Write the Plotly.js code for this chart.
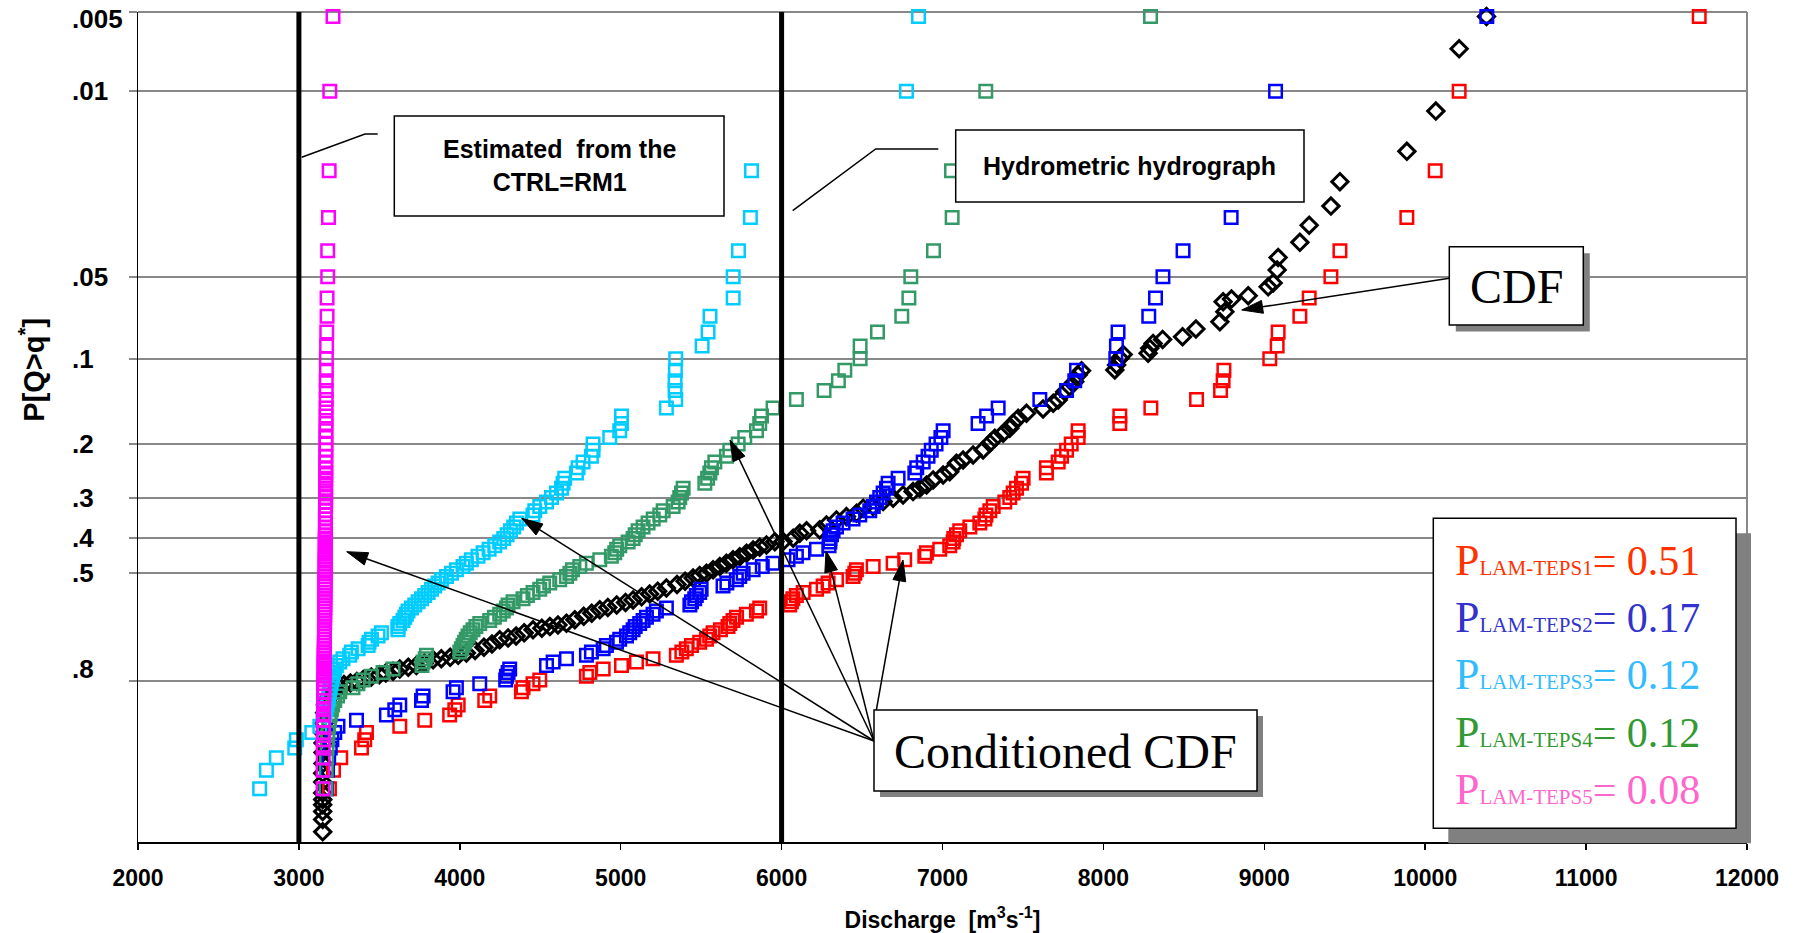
<!DOCTYPE html>
<html><head><meta charset="utf-8">
<script src="https://cdn.plot.ly/plotly-3.0.1.min.js"></script>
<style>html,body{margin:0;padding:0;background:#fff;} #chart{width:1797px;height:933px;}</style>
</head><body><div id="chart"></div>
<script>
// ---------------- DATA ----------------
// exceedance probabilities of the ensemble members (plotting positions)
const PROB = [0.0052,0.01,0.02,0.03,0.04,0.05,0.06,0.07,0.08,0.09,
 0.10,0.11,0.12,0.13,0.14,0.15,0.16,0.17,0.18,0.19,
 0.20,0.21,0.22,0.23,0.24,0.25,0.26,0.27,0.28,0.29,
 0.30,0.31,0.32,0.33,0.34,0.35,0.36,0.37,0.38,0.39,
 0.40,0.41,0.42,0.43,0.44,0.45,0.46,0.47,0.48,0.49,
 0.50,0.51,0.52,0.53,0.54,0.55,0.56,0.57,0.58,0.59,
 0.60,0.61,0.62,0.63,0.64,0.65,0.66,0.67,0.68,0.69,
 0.70,0.71,0.72,0.73,0.74,0.75,0.76,0.77,0.78,0.79,
 0.80,0.81,0.82,0.83,0.84,0.85,0.86,0.87,0.88,0.89,
 0.90,0.91,0.92,0.93,0.94,0.95,0.96,0.97,0.98,0.99];

const Q_TEPS1 = [11703,10211,10062,9886,9470,9414,9279,9221,9086,9080,
 9034,8749,8744,8728,8579,8295,8102,8102,7843,7843,
 7800,7771,7740,7719,7646,7646,7501,7491,7460,7439,
 7418,7387,7315,7294,7270,7263,7232,7170,7107,7087,
 7070,7066,7045,6983,6900,6890,6765,6693,6569,6465,
 6455,6444,6341,6289,6258,6217,6134,6092,6070,6061,
 6050,5864,5844,5781,5720,5698,5678,5667,5620,5574,
 5553,5533,5491,5440,5408,5380,5346,5201,5098,5005,
 4891,4808,4787,4497,4455,4393,4383,4186,4155,3990,
 3969,3937,3782,3627,3420,3409,3389,3260,3215,3190];

const Q_TEPS2 = [10383,9070,8900,8794,8495,8370,8324,8282,8091,8081,
 8077,7833,7822,7771,7605,7346,7274,7221,7004,6990,
 6960,6930,6910,6880,6840,6828,6724,6662,6652,6631,
 6610,6590,6570,6548,6486,6444,6382,6341,6320,6310,
 6300,6300,6295,6217,6133,6092,6040,5947,5880,5823,
 5761,5740,5719,5660,5636,5500,5491,5470,5460,5440,
 5430,5284,5222,5201,5160,5139,5118,5090,5077,5056,
 5036,4994,4974,4911,4891,4818,4787,4663,4580,4539,
 4310,4300,4290,4285,4124,3979,3958,3772,3762,3627,
 3596,3544,3358,3243,3223,3205,3195,3185,3178,3172];

const Q_TEPS3 = [6851,6776,5813,5806,5732,5699,5699,5555,5543,5506,
 5342,5340,5338,5338,5342,5284,5005,5005,4994,4932,
 4828,4828,4818,4766,4735,4725,4652,4642,4632,4601,
 4570,4539,4497,4466,4455,4373,4352,4335,4315,4294,
 4273,4248,4217,4182,4145,4113,4072,4041,4020,3979,
 3948,3917,3886,3865,3844,3824,3803,3782,3762,3741,
 3720,3699,3678,3668,3658,3647,3627,3616,3616,3513,
 3492,3451,3436,3430,3368,3326,3316,3274,3254,3233,
 3223,3215,3210,3205,3200,3195,3190,3185,3180,3175,
 3170,3160,3150,3130,3080,2984,2974,2860,2798,2756];

const Q_TEPS4 = [8293,7269,7056,7060,6944,6803,6791,6747,6596,6488,
 6488,6393,6353,6264,6092,5947,5875,5864,5844,5771,
 5730,5678,5657,5585,5564,5554,5540,5523,5388,5378,
 5367,5357,5326,5264,5243,5202,5170,5139,5108,5090,
 5077,5046,4994,4975,4963,4942,4870,4787,4746,4700,
 4684,4663,4621,4559,4520,4497,4455,4420,4393,4331,
 4300,4290,4270,4248,4215,4186,4124,4100,4082,4065,
 4051,4040,4030,4020,4010,4000,3793,3785,3772,3765,
 3585,3523,3451,3400,3367,3336,3254,3240,3223,3210,
 3202,3195,3190,3185,3180,3178,3175,3172,3170,3168];

const Q_TEPS5 = [3212,3192,3188,3184,3179,3179,3175,3175,3173,3172,
 3171,3171,3170,3170,3170,3169,3169,3169,3168,3168,
 3168,3168,3167,3167,3167,3167,3167,3166,3166,3166,
 3166,3166,3166,3165,3165,3165,3165,3165,3165,3164,
 3164,3164,3164,3164,3164,3163,3163,3163,3163,3163,
 3163,3162,3162,3162,3162,3162,3162,3161,3161,3161,
 3161,3161,3160,3160,3160,3160,3160,3159,3159,3159,
 3159,3159,3158,3158,3158,3158,3157,3157,3157,3157,
 3156,3156,3156,3155,3155,3155,3154,3154,3154,3153,
 3153,3153,3152,3152,3152,3151,3151,3151,3150,3150];

// unconditioned (mixture) CDF, black diamonds
const CDF_Q = [10381,10211,10066,9886,9470,9414,9279,9221,9086,9080,
 9055,9024,8900,8796,8744,8755,8724,8575,8492,8368,
 8309,8288,8278,8123,8102,8082,8071,7864,7843,7822,
 7791,7760,7719,7688,7625,7522,7470,7439,7418,7377,
 7325,7294,7252,7190,7128,7087,7045,7004,6942,6901,
 6859,6817,6755,6693,6631,6569,6507,6466,6403,6341,
 6279,6237,6155,6113,6072,6009,5958,5906,5864,5823,
 5782,5740,5698,5657,5616,5574,5533,5491,5450,5400,
 5350,5284,5230,5180,5130,5077,5030,4975,4920,4870,
 4820,4770,4715,4663,4610,4560,4510,4455,4400,4350,
 4300,4248,4200,4150,4095,4041,3990,3940,3885,3834,
 3780,3730,3680,3627,3585,3540,3500,3450,3400,3360,
 3320,3280,3254,3230,3210,3190,3175,3165,3160,3155,
 3152,3150,3150,3150,3148,3148,3148,3148,3148,3148,
 3148,3148];
const CDF_P = [0.0052,0.0069,0.0119,0.0169,0.022,0.0272,0.0321,0.0372,0.0424,0.0472,
 0.0527,0.0545,0.0588,0.0605,0.0619,0.0674,0.0733,0.078,0.0832,0.0851,
 0.088,0.0917,0.0956,0.0965,0.0997,0.1054,0.1099,0.1105,0.1145,0.121,
 0.1261,0.1313,0.1405,0.1443,0.1511,0.1565,0.1629,0.1696,0.1765,0.1836,
 0.191,0.1986,0.2093,0.2176,0.2262,0.232,0.2474,0.2537,0.2633,0.2733,
 0.2801,0.2872,0.2943,0.3015,0.3091,0.3204,0.3241,0.336,0.3442,0.3523,
 0.3648,0.3774,0.380,0.3862,0.3994,0.4085,0.409,0.418,0.424,0.432,
 0.441,0.451,0.460,0.470,0.480,0.490,0.500,0.507,0.515,0.525,
 0.535,0.546,0.556,0.565,0.574,0.584,0.592,0.600,0.608,0.616,
 0.627,0.637,0.648,0.659,0.665,0.670,0.675,0.680,0.690,0.700,
 0.706,0.712,0.725,0.735,0.745,0.753,0.760,0.766,0.770,0.773,
 0.783,0.790,0.795,0.800,0.806,0.811,0.816,0.822,0.829,0.834,
 0.838,0.842,0.849,0.855,0.862,0.871,0.880,0.890,0.906,0.925,
 0.941,0.954,0.965,0.975,0.982,0.987,0.9916,0.9937,0.995,0.9964,
 0.9976,0.9988];

const SERIES_NAMES = ['LAM-TEPS1','LAM-TEPS2','LAM-TEPS3','LAM-TEPS4','LAM-TEPS5'];
const SERIES_WEIGHTS = [0.51, 0.17, 0.12, 0.12, 0.08];
const THRESHOLDS = [3000, 6000];           // CTRL=RM1 estimate, hydrometric hydrograph
const GRID_P = [0.005,0.01,0.05,0.1,0.2,0.3,0.4,0.5,0.832]; // gridline levels as drawn
const TICK_P = [0.005,0.01,0.05,0.1,0.2,0.3,0.4,0.5,0.8];
const TICK_LABELS = ['.005','.01','.05','.1','.2','.3','.4','.5','.8'];
const X_TICKS = [2000,3000,4000,5000,6000,7000,8000,9000,10000,11000,12000];
const P_TOP = 0.005, P_BOTTOM = 0.99936;

// ---------------- STYLE ----------------
const SANS = 'Liberation Sans, Arial, sans-serif';
const SERIF = 'Liberation Serif, Times New Roman, serif';
const MARK_COLORS = ['#FF0000','#0000FF','#00CCFF','#339966','#FF00FF'];
const LEGEND_COLORS = ['#FF3300','#3333CC','#33BBFF','#339933','#FF66CC'];

// Gumbel (extreme value) probability scale
function gumbel(p){ return -Math.log(-Math.log(1 - p)); }

const W = 1797, H = 933, ML = 138, MR = 50, MT = 12, MB = 91;
const PW = W - ML - MR, PH = H - MT - MB;
const xp = px => (px - ML) / PW;
const yp = py => 1 - (py - MT) / PH;

const SERIES_Q = [Q_TEPS1, Q_TEPS2, Q_TEPS3, Q_TEPS4, Q_TEPS5];
const traces = [];
traces.push({type:'scatter', mode:'markers', name:'CDF', x:CDF_Q, y:CDF_P.map(gumbel), cliponaxis:false,
  marker:{symbol:'diamond-open', size:12.5, color:'#000000', line:{width:3, color:'#000000'}}});
const drawOrder = [0,1,3,2,4];
drawOrder.forEach(i => traces.push({type:'scatter', mode:'markers', name:SERIES_NAMES[i], x:SERIES_Q[i], y:PROB.map(gumbel), cliponaxis:false,
  marker:{symbol:'square-open', size:12.5, color:MARK_COLORS[i], line:{width:2.5, color:MARK_COLORS[i]}}}));

// ---------------- SHAPES ----------------
const shapes = [];
THRESHOLDS.forEach(t => shapes.push({type:'line', xref:'x', yref:'paper', x0:t, x1:t, y0:0, y1:1, line:{color:'black', width:5}, layer:'above'}));
shapes.push({type:'line', xref:'paper', yref:'paper', x0:1, x1:1, y0:0, y1:1, line:{color:'#888888', width:2}, layer:'below'});
shapes.push({type:'line', xref:'paper', yref:'paper', x0:0, x1:1, y0:1, y1:1, line:{color:'#888888', width:2}, layer:'below'});

function pathOf(pts){ return pts.map((p,i)=>(i?'L':'M')+xp(p[0])+','+yp(p[1])).join(' '); }
function leader(pts){ shapes.push({type:'path', xref:'paper', yref:'paper', path:pathOf(pts), line:{color:'black', width:1.5}, layer:'above'}); }
function arrow(h, t){
  const dx=h[0]-t[0], dy=h[1]-t[1], len=Math.hypot(dx,dy), ux=dx/len, uy=dy/len;
  const HL=21, HW=6.5, bx=h[0]-ux*HL, by=h[1]-uy*HL;
  shapes.push({type:'path', xref:'paper', yref:'paper', path:pathOf([t,[bx,by]]), line:{color:'black', width:1.5}, layer:'above'});
  shapes.push({type:'path', xref:'paper', yref:'paper', path:pathOf([h,[bx-uy*HW,by+ux*HW],[bx+uy*HW,by-ux*HW]])+' Z', fillcolor:'black', line:{color:'black', width:1}, layer:'above'});
}
function box(x0,y0,x1,y1,shadow){
  if (shadow) shapes.push({type:'rect', xref:'paper', yref:'paper', x0:xp(x0+shadow), x1:xp(x1+shadow), y0:yp(y1+shadow), y1:yp(y0+shadow), fillcolor:'#808080', line:{width:0}, layer:'above'});
  shapes.push({type:'rect', xref:'paper', yref:'paper', x0:xp(x0), x1:xp(x1), y0:yp(y1), y1:yp(y0), fillcolor:'white', line:{color:'black', width:1.5}, layer:'above'});
}
leader([[301.7,157.3],[365,134],[377.7,134]]);
leader([[792.7,210.7],[875.7,149],[938.3,149]]);
arrow([346.7,551.7],[874,741]);
arrow([521.7,518.3],[874,741]);
arrow([730,440],[874,741]);
arrow([826,551],[874,741]);
arrow([903,560],[876,712]);
arrow([1241.7,310],[1449.3,278.3]);
box(394.3,116,724,216,0);
box(955.7,130,1304,202,0);
box(1449.3,246.7,1583.3,325,6.5);
box(874,710,1257,791,6);
box(1433.3,518.3,1736,828.3,15);

// ---------------- ANNOTATIONS ----------------
const annotations = [];
function label(px, py, text, font, extra){
  annotations.push(Object.assign({xref:'paper', yref:'paper', x:xp(px), y:yp(py), text:text, showarrow:false, xanchor:'center', yanchor:'middle', font:font}, extra||{}));
}
label(559, 166, '<b>Estimated\u00a0 from the</b><br><b>CTRL=RM1</b>', {family:SANS, size:25, color:'black'});
label(1129, 166, '<b>Hydrometric hydrograph</b>', {family:SANS, size:25, color:'black'});
label(1516, 286, 'CDF', {family:SERIF, size:48, color:'black'});
label(1065, 751, 'Conditioned CDF', {family:SERIF, size:48, color:'black'});
const legendText = SERIES_NAMES.map((n,i)=>{
  const c = LEGEND_COLORS[i];
  return '<span style="color:'+c+'">P</span><span style="color:'+c+';font-size:21px">'+n+'</span><span style="color:'+c+';font-size:42px">=\u00a0'+SERIES_WEIGHTS[i].toFixed(2)+'</span>';
}).join('<br>');
label(1453, 675, legendText, {family:SERIF, size:44, color:'black'}, {xanchor:'left', align:'left'});
TICK_P.forEach((p,i)=>annotations.push({xref:'paper', yref:'y', x:xp(70), y:gumbel(p), xanchor:'left', yanchor:'middle',
  text:'<b>'+TICK_LABELS[i]+'</b>', showarrow:false, font:{family:SANS, size:26, color:'black'}, yshift:(i===0?-7:0)}));
// y-axis title (sits above the axis centre in the original)
label(31.7, 370, '<b>P[Q&gt;q<sup>*</sup>]</b>', {family:SANS, size:29, color:'black'}, {textangle:-90});

const layout = {
  width:W, height:H, margin:{l:ML, r:MR, t:MT, b:MB, pad:0},
  paper_bgcolor:'white', plot_bgcolor:'white', showlegend:false, hovermode:false,
  font:{family:SANS, color:'black'},
  xaxis:{range:[2000,12000], tickmode:'array', tickvals:X_TICKS, ticktext:X_TICKS.map(String),
    ticks:'outside', ticklen:6, tickwidth:1.5, tickcolor:'black', ticklabelstandoff:9,
    tickfont:{family:SANS, size:23, color:'black', weight:'bold'},
    showgrid:false, zeroline:false, showline:true, linecolor:'black', linewidth:1.5,
    title:{text:'<b>Discharge\u00a0 [m<sup>3</sup>s<sup>-1</sup>]</b>', font:{family:SANS, size:23, color:'black'}, standoff:23}},
  yaxis:{range:[gumbel(P_BOTTOM), gumbel(P_TOP)], tickmode:'array', tickvals:GRID_P.map(gumbel), showticklabels:false,
    ticks:'outside', ticklen:8, tickwidth:2, tickcolor:'#888888',
    showgrid:true, gridcolor:'#888888', gridwidth:2, zeroline:false, showline:true, linecolor:'black', linewidth:1.5},
  shapes:shapes, annotations:annotations
};
Plotly.newPlot('chart', traces, layout, {displayModeBar:false, staticPlot:true});
</script>
</body></html>
